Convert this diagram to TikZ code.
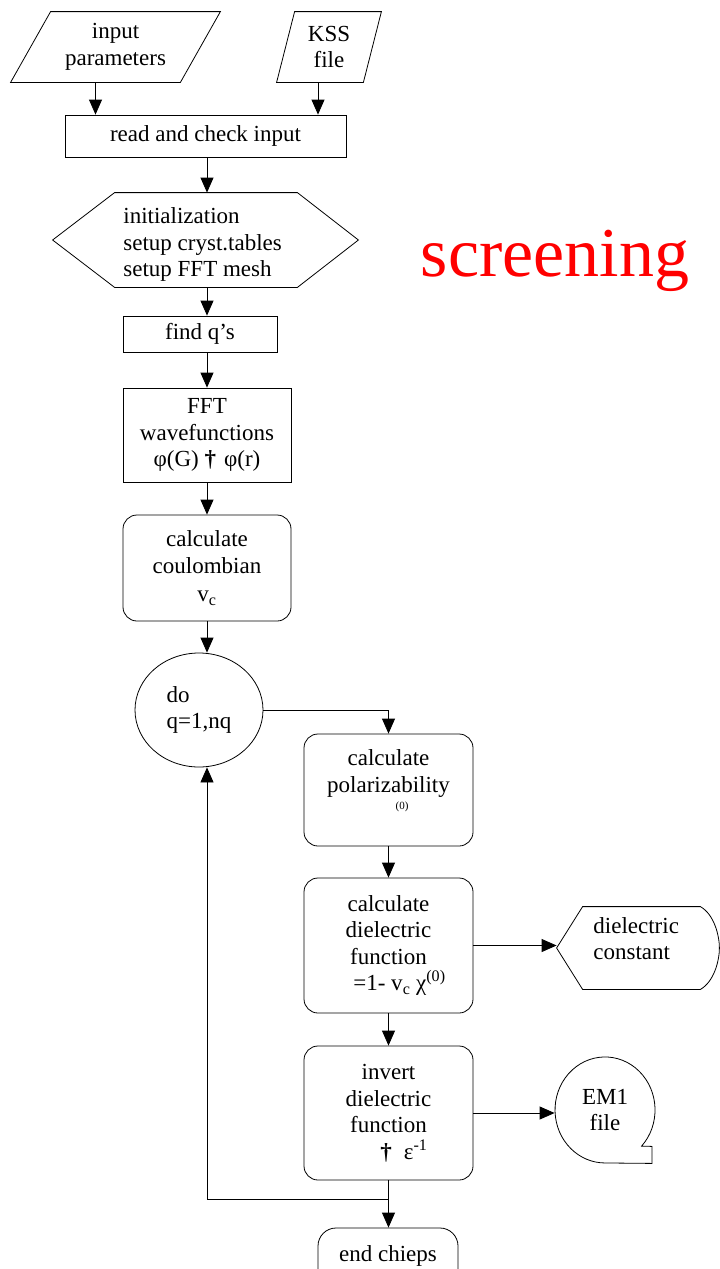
\documentclass[tikz,border=0pt]{standalone}
\usepackage{fontspec}
\setmainfont{Liberation Serif}
\usetikzlibrary{arrows.meta,shapes.geometric,calc}
\begin{document}
\begin{tikzpicture}[x=1pt,y=-1pt,line width=0.8pt,
  txt/.style={font=\fontsize{23}{26.5}\selectfont,inner sep=0pt,align=center},
  ghost/.style={rectangle,inner sep=0pt,txt},
  box/.style={draw,rectangle,inner sep=0pt,txt},
  rbox/.style={draw,rectangle,rounded corners=14pt,inner sep=0pt,txt},
  arr/.style={-{Triangle[length=15pt,width=13pt]}}]
\useasboundingbox (0,0) rectangle (720,1269);

% input parallelograms
\node[ghost,minimum width=209pt,minimum height=70pt] (inp) at (115.5,47) {input\\parameters};
\draw ([xshift=40pt]inp.north west) -- (inp.north east) -- ([xshift=-40pt]inp.south east) -- (inp.south west) -- cycle;
\node[ghost,minimum width=104pt,minimum height=70pt] (kss) at (329,47) {KSS\\file};
\draw ([xshift=18pt]kss.north west) -- (kss.north east) -- ([xshift=-18pt]kss.south east) -- (kss.south west) -- cycle;

\node[box,minimum width=281pt,minimum height=42pt] (read) at (205.5,136) {read and check input};

% hexagon
\node[ghost,minimum width=305pt,minimum height=94pt] (hex) at (205.5,240) {};
\draw (hex.west) -- ([xshift=62pt]hex.north west) -- ([xshift=-61pt]hex.north east) -- (hex.east)
      -- ([xshift=-61pt]hex.south east) -- ([xshift=62pt]hex.south west) -- cycle;
\node[txt,align=left,anchor=west] (hextxt) at (123,244.5) {initialization\\setup cryst.tables\\setup FFT mesh};

\node[box,minimum width=154pt,minimum height=36pt] (findq) at (200,334) {find q’s};
\node[box,minimum width=168pt,minimum height=94pt] (fft) at (207,435) {FFT\\wavefunctions\\φ(G) {\bfseries †}\hspace{8pt}φ(r)};
\node[rbox,minimum width=168pt,minimum height=106pt] (coul) at (207,568) {calculate\\coulombian\\[2pt]v\textsubscript{c}};

% loop
\node[draw,ellipse,inner sep=0pt,minimum width=128pt,minimum height=114pt,txt,align=left] (loop) at (199,710) {do\\q=1,nq};

\node[rbox,minimum width=169pt,minimum height=112pt] (pol) at (388.5,790) {};
\node[txt] (poltxt) at (388.5,773.5) {calculate\\polarizability};
\node[inner sep=0pt,font=\fontsize{11}{12}\selectfont] (pol0) at (402,807) {(0)};

\node[rbox,minimum width=169pt,minimum height=135pt] (dfun) at (388.5,945.5)
  {calculate\\dielectric\\function\\\hspace*{22pt}=1- v\textsubscript{c} χ\textsuperscript{(0)}};

\node[rbox,minimum width=169pt,minimum height=134pt] (inv) at (388.5,1113)
  {invert\\dielectric\\function\\\hspace*{31pt}{\bfseries †}\hspace{12pt}ε\textsuperscript{-1}};

% dielectric constant (display shape)
\node[ghost,minimum width=162pt,minimum height=82pt] (dconst) at (638,948) {};
\draw (dconst.west) -- ([xshift=26pt]dconst.north west) -- ([xshift=-19pt]dconst.north east)
  .. controls ([xshift=-5pt,yshift=-8pt]dconst.north east) and ([yshift=12pt]dconst.east) .. (dconst.east)
  .. controls ([yshift=-12pt]dconst.east) and ([xshift=-5pt,yshift=8pt]dconst.south east) .. ([xshift=-19pt]dconst.south east)
  -- ([xshift=26pt]dconst.south west) -- cycle;
\node[txt,align=left,anchor=west] (dconsttxt) at (593,938.5) {dielectric\\constant};

% EM1 file (tape shape)
\node[ghost,minimum width=100pt,minimum height=106pt] (em1) at (605,1110) {EM1\\file};
\draw ([shift={(36.6,36.1)}]em1.center) arc[start angle=43,end angle=-270,x radius=50,y radius=53]
  -- ([xshift=47pt]em1.south) -- ([xshift=47pt,yshift=17pt]em1.south) -- cycle;

% end
\node[draw,rectangle,rounded corners=18pt,minimum width=140pt,minimum height=70pt,inner sep=0pt] (endc) at (388,1263) {};
\node[txt] (endtxt) at (388,1255.5) {end chieps};

\node[text=red,font=\fontsize{70}{80}\selectfont,inner sep=0pt,anchor=base] (title) at (555,276) {screening};

% connectors
\draw[arr] ([xshift=-20pt]inp.south) -- ([xshift=-20pt]inp.south |- read.north);
\draw[arr] ([xshift=-11pt]kss.south) -- ([xshift=-11pt]kss.south |- read.north);
\draw[arr] (read.south -| fft.north) -- (hex.north -| fft.north);
\draw[arr] (hex.south -| fft.north) -- (findq.north -| fft.north);
\draw[arr] (findq.south -| fft.north) -- (fft.north);
\draw[arr] (fft.south) -- (coul.north);
\draw[arr] (coul.south) -- (coul.south |- loop.north);
\draw[arr] (loop.east) -| (pol.north);
\draw[arr] (pol.south) -- (dfun.north);
\draw[arr] (dfun.east) -- (dfun.east -| dconst.west);
\draw[arr] (dfun.south) -- (inv.north);
\draw[arr] (inv.east) -- (inv.east -| em1.west);
\draw[arr] (inv.south) -- (endc.north -| inv.south);
\coordinate (j) at ($(inv.south)+(0,19)$);
\draw[arr] (j) -| ([xshift=8pt]loop.south);
\end{tikzpicture}
\end{document}
